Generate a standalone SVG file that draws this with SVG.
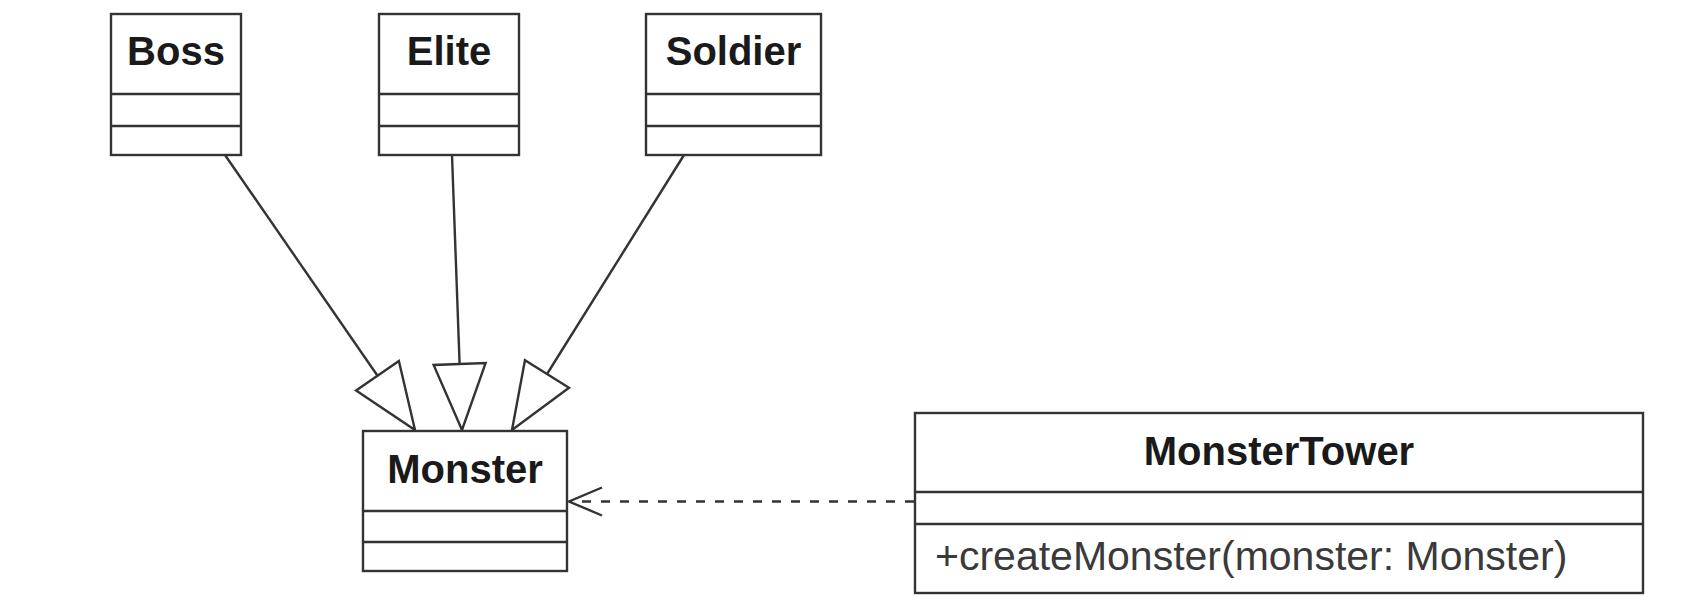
<svg xmlns="http://www.w3.org/2000/svg" width="1707" height="597" viewBox="0 0 1707 597">
  <style>
    .box { fill: #ffffff; stroke: #333333; stroke-width: 2.4; }
    .div { stroke: #333333; stroke-width: 2.4; fill: none; }
    .title { font-family: "Liberation Sans", Arial, sans-serif; font-weight: bold; font-size: 40px; fill: #1a1a1a; text-anchor: middle; }
    .member { font-family: "Liberation Sans", Arial, sans-serif; font-size: 41px; fill: #3a3a3a; }
    .edge { stroke: #333333; stroke-width: 2.4; fill: none; }
    .dash { stroke-dasharray: 9 10; }
  </style>
  <defs>
    <marker id="inherit" viewBox="-2 -29 71 58" refX="66" refY="0" markerWidth="71" markerHeight="58" markerUnits="userSpaceOnUse" orient="auto" overflow="visible">
      <path d="M0,-26 L66,0 L0,26 Z" fill="#ffffff" stroke="#333333" stroke-width="2.4" stroke-linejoin="miter"/>
    </marker>
    <marker id="open" viewBox="-36 -16 40 32" refX="0" refY="0" markerWidth="40" markerHeight="32" markerUnits="userSpaceOnUse" orient="auto" overflow="visible">
      <path d="M-33,-14 L0,0 L-33,14" fill="none" stroke="#333333" stroke-width="2.4"/>
    </marker>
  </defs>

  <g id="connectors">
    <line class="edge" x1="225" y1="155" x2="415" y2="430" marker-end="url(#inherit)"/>
    <line class="edge" x1="452" y1="155" x2="462" y2="430" marker-end="url(#inherit)"/>
    <line class="edge" x1="684" y1="155" x2="512" y2="430" marker-end="url(#inherit)"/>
    <line class="edge dash" x1="914" y1="501.5" x2="569" y2="501.5" marker-end="url(#open)"/>
  </g>

  <g id="boss">
    <rect class="box" x="111" y="14" width="130" height="141"/>
    <line class="div" x1="111" y1="94" x2="241" y2="94"/>
    <line class="div" x1="111" y1="126" x2="241" y2="126"/>
    <text class="title" x="176" y="65">Boss</text>
  </g>

  <g id="elite">
    <rect class="box" x="379" y="14" width="140" height="141"/>
    <line class="div" x1="379" y1="94" x2="519" y2="94"/>
    <line class="div" x1="379" y1="126" x2="519" y2="126"/>
    <text class="title" x="449" y="65">Elite</text>
  </g>

  <g id="soldier">
    <rect class="box" x="646" y="14" width="175" height="141"/>
    <line class="div" x1="646" y1="94" x2="821" y2="94"/>
    <line class="div" x1="646" y1="126" x2="821" y2="126"/>
    <text class="title" x="733.5" y="65">Soldier</text>
  </g>

  <g id="monster">
    <rect class="box" x="363" y="431" width="204" height="140"/>
    <line class="div" x1="363" y1="511" x2="567" y2="511"/>
    <line class="div" x1="363" y1="542" x2="567" y2="542"/>
    <text class="title" x="465" y="483">Monster</text>
  </g>

  <g id="monstertower">
    <rect class="box" x="915" y="413" width="728" height="180"/>
    <line class="div" x1="915" y1="492" x2="1643" y2="492"/>
    <line class="div" x1="915" y1="524" x2="1643" y2="524"/>
    <text class="title" x="1279" y="465">MonsterTower</text>
    <text class="member" x="935" y="570">+createMonster(monster: Monster)</text>
  </g>
</svg>
